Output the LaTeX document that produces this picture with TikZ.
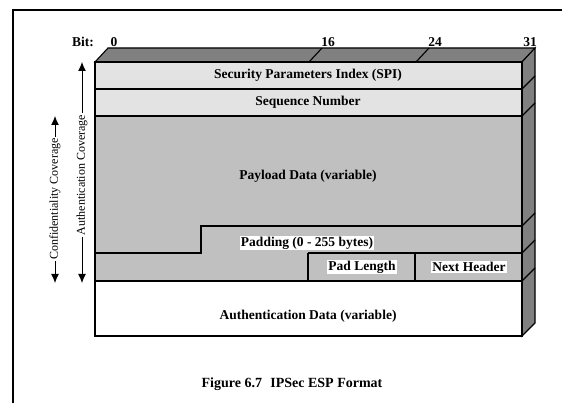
\documentclass[tikz,border=0pt]{standalone}
\usepackage{fontspec}
\setmainfont{Liberation Serif}
\usetikzlibrary{arrows.meta}
\definecolor{rowlight}{HTML}{E3E3E3}
\definecolor{rowmid}{HTML}{C0C0C0}
\definecolor{sidedark}{HTML}{808080}
\tikzset{
  edge/.style={line width=1.1pt, line join=miter},
  field/.style={font=\bfseries\fontsize{13.5}{15}\selectfont, inner sep=1pt},
  boxed/.style={field, fill=white},
  bitlabel/.style={font=\bfseries\fontsize{13.5}{15}\selectfont, inner sep=0pt},
  cover/.style={font=\fontsize{12}{14}\selectfont, rotate=90, fill=white, inner sep=1.5pt},
  coverarrow/.style={line width=1pt, {Latex[length=9pt,width=8pt]}-{Latex[length=9pt,width=8pt]}}
}
\begin{document}
\begin{tikzpicture}[x=1pt, y=-1pt]
\useasboundingbox (0,0) rectangle (562,403);
% outer frame
\draw[line width=2pt] (12.5,403) -- (12.5,10) -- (562,10);

% top face of the packet block
\filldraw[edge, fill=sidedark] (95,62) -- (108,48) -- (535,48) -- (522,62) -- cycle;
\draw[edge] (309,62) -- (322,48);
\draw[edge] (416,62) -- (429,48);
% right face
\filldraw[edge, fill=sidedark] (522,62) -- (535,48) -- (535,323) -- (522,336) -- cycle;
\foreach \yy in {89,116,226,253,281} \draw[edge] (522,\yy) -- (535,\yy-13);

% front face rows
\fill[rowlight] (95,62) rectangle (522,116);
\fill[rowmid] (95,116) rectangle (522,281);
\fill[white] (95,281) rectangle (522,336);
\draw[edge] (95,62) rectangle (522,336);
\draw[edge] (95,89) -- (522,89);
\draw[edge] (95,116) -- (522,116);
\draw[edge] (95,253) -- (201,253) -- (201,226) -- (522,226);
\draw[edge] (308,253) -- (522,253);
\draw[edge] (308,253) -- (308,281);
\draw[edge] (415,253) -- (415,281);
\draw[edge] (95,281) -- (522,281);

% bit positions
\node[bitlabel] (bit) at (83,42) {Bit:};
\node[bitlabel] (b0) at (114,42) {0};
\node[bitlabel] (b16) at (328,42) {16};
\node[bitlabel] (b24) at (435,42) {24};
\node[bitlabel] (b31) at (530,42) {31};

% field names
\node[field] (spi) at (308,75.5) {Security Parameters Index (SPI)};
\node[field] (seq) at (308,102.5) {Sequence Number};
\node[field] (payload) at (308,176) {Payload Data (variable)};
\node[boxed] (pad) at (307,243) {Padding (0 - 255 bytes)};
\node[boxed] (padlen) at (362,267) {Pad Length};
\node[boxed] (next) at (469,267) {Next Header};
\node[field] (auth) at (308,316) {Authentication Data (variable)};

% coverage ranges
\coordinate (atop) at (82,62);
\coordinate (abot) at (82,283);
\coordinate (ctop) at (55,116);
\coordinate (cbot) at (55,283);
\draw[coverarrow] (atop) -- (abot);
\draw[coverarrow] (ctop) -- (cbot);
\node[cover] (alabel) at (82,175) {Authentication Coverage};
\node[cover] (clabel) at (55,199) {Confidentiality Coverage};

% caption
\node[field, font=\bfseries\fontsize{14}{16}\selectfont] (caption) at (292,384) {Figure 6.7\hspace{0.6em}IPSec ESP Format};
\end{tikzpicture}
\end{document}
